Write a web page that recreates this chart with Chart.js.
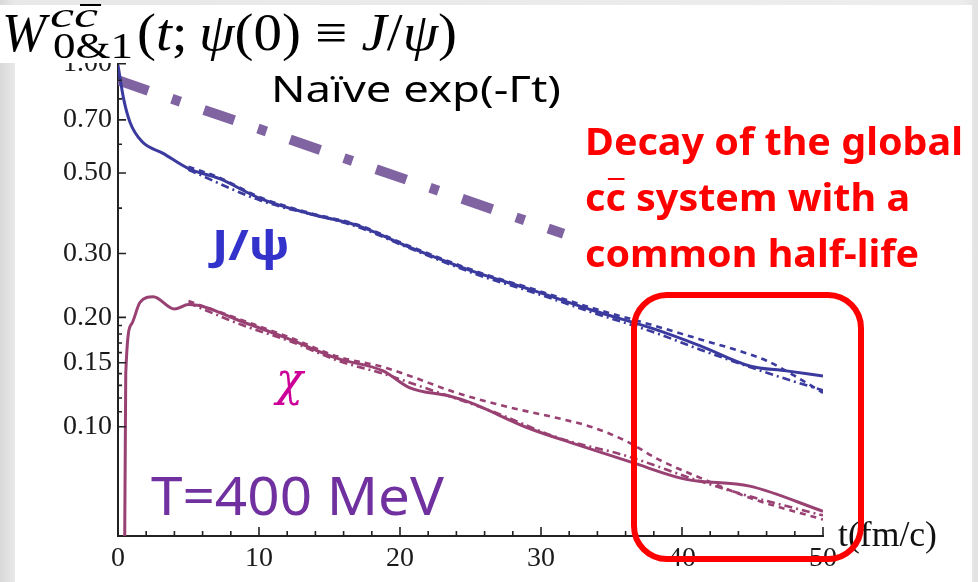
<!DOCTYPE html>
<html>
<head>
<meta charset="utf-8">
<script src="https://cdn.jsdelivr.net/npm/chart.js@4.4.0/dist/chart.umd.min.js"></script>
<style>
  html, body { margin: 0; padding: 0; }
  body {
    width: 978px; height: 582px; overflow: hidden; position: relative;
    background: linear-gradient(90deg, #d9d9d9 0px, #e8e8e8 15px, #ededed 960px, #e2e2e2 978px);
  }
  #panel { position: absolute; left: 15px; top: 5px; width: 957px; height: 577px; background: #fff; }
  #chart { position: absolute; left: 0; top: 0; z-index: 1; }
  .lbl { position: absolute; white-space: nowrap; line-height: 1; transform-origin: 0 0; z-index: 3; }
  .serif { font-family: "Liberation Serif", "DejaVu Serif", serif; }
  .it { font-style: italic; }
  .sans { font-family: "Noto Sans", "Open Sans", sans-serif; }
  #titleBox { position: absolute; left: 0; top: 5px; width: 466px; height: 58px; background: #fff; z-index: 2; }
  #redBox {
    position: absolute; left: 631px; top: 292px; width: 233px; height: 270px;
    box-sizing: border-box; border: 6px solid #ff0000; border-radius: 36px; z-index: 3;
  }
  .bar { position: relative; }
  .bar::before { content: ""; position: absolute; left: 2px; right: 1px; border-top: 2px solid currentColor; }
  .bar.red::before { top: 8px; }
  .bar.tt::before { top: 9px; left: 4px; right: -2px; }
</style>
</head>
<body>
<div id="panel"></div>
<canvas id="chart" width="978" height="582"></canvas>

<div id="titleBox"></div>
<div class="lbl serif it" style="left:2px; top:6px; font-size:54px;" data-w="44">W</div>
<div class="lbl serif it" style="left:50px; top:-3px; font-size:36px;" data-w="48">c<span class="bar tt">c</span></div>
<div class="lbl serif" style="left:53px; top:28px; font-size:36px;" data-w="80">0&amp;1</div>
<div class="lbl serif" style="left:137px; top:7px; font-size:52px;" data-w="320">(<span class="it">t</span>;&thinsp;<span class="it">ψ</span>(0) ≡ <span class="it">J</span>/<span class="it">ψ</span>)</div>

<div class="lbl sans" style="left:271px; top:71px; font-size:36px; color:#000;" data-w="290">Naïve exp(-Γt)</div>
<div class="lbl sans" style="left:212px; top:223px; font-size:42px; font-weight:700; color:#3333cc;" data-w="78">J/ψ</div>
<div class="lbl it" style="left:276px; top:356px; font-size:46px; color:#cc0099; font-family:'DejaVu Serif', serif;" data-w="27">χ</div>
<div class="lbl sans" style="left:151px; top:469px; font-size:52px; color:#7030a0;" data-w="293">T=400 MeV</div>
<div class="lbl serif" style="left:838px; top:517px; font-size:35px; color:#111;" data-w="99">t(fm/c)</div>

<div class="lbl sans" style="left:585px; top:112px; font-size:38px; line-height:56px; font-weight:700; color:#ff0000;" data-w="378">Decay of the global<br>c<span class="bar red">c</span> system with a<br>common half-life</div>
<div id="redBox"></div>

<script>
// W(t), log scale
const naiveT = [0, 31.6];
const naiveW = [0.90, 0.34];

const jpsiSolidT = [0, 0.4, 0.85, 1.7, 3.2, 5, 7.2, 10.1, 13.6, 17, 20.7, 25.4, 29.5, 33.7, 38, 41.3, 44.8, 47.4, 50];
const jpsiSolidW = [0.99, 0.80, 0.69, 0.61, 0.566, 0.514, 0.482, 0.425, 0.386, 0.358, 0.312, 0.266, 0.237, 0.209, 0.186, 0.167, 0.147, 0.1425, 0.138];

const jpsiDashT = [5, 7.2, 10.1, 13.6, 17, 20.7, 25.4, 29.5, 33.7, 38, 41.3, 44, 46, 48, 50];
const jpsiDashW = [0.52, 0.485, 0.428, 0.388, 0.36, 0.314, 0.268, 0.239, 0.212, 0.19, 0.174, 0.162, 0.152, 0.138, 0.124];

const jpsiDotDashT = [5, 10.1, 17, 20.7, 25.4, 29.5, 33.7, 38, 41.3, 44.8, 48, 50];
const jpsiDotDashW = [0.51, 0.42, 0.355, 0.31, 0.263, 0.234, 0.206, 0.182, 0.163, 0.146, 0.133, 0.126];

const chiSolidT = [0.45, 0.55, 0.97, 1.56, 2.5, 4.0, 5.0, 8.9, 12.2, 15.6, 18.8, 20.7, 23.5, 25, 29, 32.5, 36.5, 40.3, 44.8, 50];
const chiSolidW = [0.03, 0.14, 0.192, 0.22, 0.228, 0.211, 0.217, 0.194, 0.174, 0.154, 0.1425, 0.128, 0.1215, 0.1165, 0.0995, 0.0894, 0.0796, 0.0716, 0.0686, 0.0585];

const chiDashT = [5, 8.9, 12.2, 15.6, 18.8, 20.7, 24, 27.8, 31, 33.7, 36.1, 38.4, 41.3, 44.8, 50];
const chiDashW = [0.222, 0.196, 0.176, 0.156, 0.146, 0.138, 0.124, 0.113, 0.106, 0.0995, 0.091, 0.081, 0.0723, 0.0637, 0.0555];

const chiDotDashT = [5, 8.9, 12.2, 15.6, 18.8, 22, 26.6, 31.3, 36.1, 41.3, 45, 50];
const chiDotDashW = [0.219, 0.19, 0.172, 0.152, 0.14, 0.127, 0.11, 0.093, 0.083, 0.0707, 0.064, 0.057];

// axis ticks
const xMajorTicks = [0, 10, 20, 30, 40, 50];
const xMinorTicks = [2, 4, 6, 8, 12, 14, 16, 18, 22, 24, 26, 28, 32, 34, 36, 38, 42, 44, 46, 48];
const yMajorTicks = [0.10, 0.15, 0.20, 0.30, 0.50, 0.70, 1.00];
const yMinorTicks = [0.11, 0.12, 0.13, 0.14, 0.16, 0.17, 0.18, 0.19, 0.4, 0.6, 0.8, 0.9];

const blue = "#3b3a9e";
const plum = "#984172";

function pts(ts, ws) {
  return ts.map((t, i) => ({ x: t, y: ws[i] }));
}

function line(label, ts, ws, color, dash, width) {
  return {
    label: label,
    data: pts(ts, ws),
    borderColor: color,
    borderWidth: width || 3,
    borderDash: dash || [],
    pointRadius: 0,
    cubicInterpolationMode: "monotone",
    fill: false,
  };
}

// ticks that point into the plot, like the original
const innerTicks = {
  id: "innerTicks",
  afterDraw(chart) {
    const { ctx, chartArea: a, scales: { x, y } } = chart;
    ctx.save();
    ctx.strokeStyle = "#222";
    ctx.lineWidth = 1.6;
    ctx.beginPath();
    xMajorTicks.forEach((t) => { const px = x.getPixelForValue(t); ctx.moveTo(px, a.bottom); ctx.lineTo(px, a.bottom - 9); });
    xMinorTicks.forEach((t) => { const px = x.getPixelForValue(t); ctx.moveTo(px, a.bottom); ctx.lineTo(px, a.bottom - 5); });
    yMajorTicks.forEach((v) => { const py = y.getPixelForValue(v); ctx.moveTo(a.left, py); ctx.lineTo(a.left + 8, py); });
    yMinorTicks.forEach((v) => { const py = y.getPixelForValue(v); ctx.moveTo(a.left, py); ctx.lineTo(a.left + 4, py); });
    ctx.stroke();
    ctx.restore();
  },
};

const tickFont = { family: "'Liberation Serif', serif", size: 28 };

new Chart(document.getElementById("chart"), {
  type: "line",
  data: {
    datasets: [
      line("chi dot-dashed", chiDotDashT, chiDotDashW, plum, [8, 4, 2, 4], 2.6),
      line("chi dashed", chiDashT, chiDashW, plum, [6, 5], 2.6),
      line("chi", chiSolidT, chiSolidW, plum, [], 3),
      line("J/psi dot-dashed", jpsiDotDashT, jpsiDotDashW, blue, [8, 4, 2, 4], 2.6),
      line("J/psi dashed", jpsiDashT, jpsiDashW, blue, [6, 5], 2.6),
      line("J/psi", jpsiSolidT, jpsiSolidW, blue, [], 3),
      Object.assign(line("naive", naiveT, naiveW, "#8064a2", [32, 25, 9, 25], 10), { borderCapStyle: "butt", cubicInterpolationMode: "default", tension: 0 }),
    ],
  },
  options: {
    responsive: false,
    animation: false,
    devicePixelRatio: 1,
    layout: { padding: { left: 0, right: 155, top: 59, bottom: 0 } },
    plugins: { legend: { display: false }, tooltip: { enabled: false } },
    scales: {
      x: {
        type: "linear",
        min: 0,
        max: 50,
        afterFit: (s) => { s.height = 46; },
        afterBuildTicks: (s) => { s.ticks = xMajorTicks.map((v) => ({ value: v })); },
        grid: { display: true, drawOnChartArea: false, drawTicks: false },
        border: { display: true, color: "#222", width: 2 },
        ticks: { font: tickFont, color: "#1a1a1a", padding: 6, maxRotation: 0, callback: (v) => String(v) },
      },
      y: {
        type: "logarithmic",
        min: 0.05,
        max: 1.03,
        afterFit: (s) => { s.width = 118; },
        afterBuildTicks: (s) => { s.ticks = yMajorTicks.map((v) => ({ value: v })); },
        grid: { display: true, drawOnChartArea: false, drawTicks: false },
        border: { display: true, color: "#222", width: 2 },
        ticks: { font: tickFont, color: "#1a1a1a", padding: 6, callback: (v) => Number(v).toFixed(2) },
      },
    },
  },
  plugins: [innerTicks],
});

// squeeze each label to the width it has in the picture
function fitLabels() {
  document.querySelectorAll("[data-w]").forEach((el) => {
    el.style.transform = "none";
    const w = el.getBoundingClientRect().width;
    if (w > 0) el.style.transform = `scaleX(${el.dataset.w / w})`;
  });
}
fitLabels();
document.fonts.ready.then(fitLabels);
</script>
</body>
</html>
